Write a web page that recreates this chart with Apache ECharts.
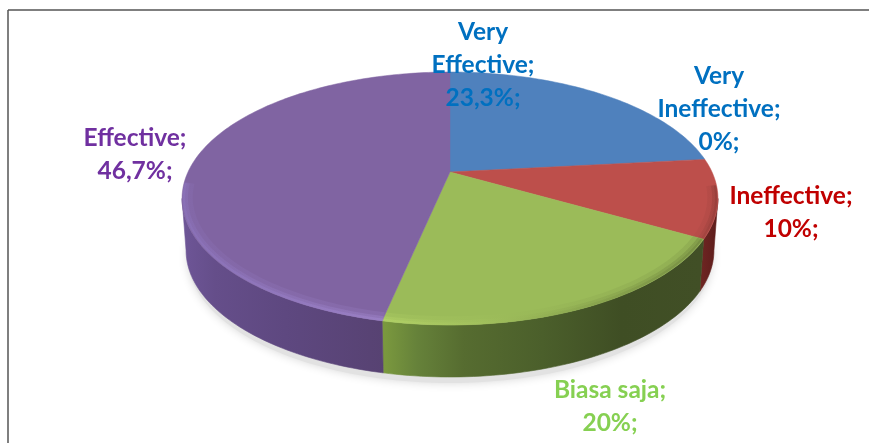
<!DOCTYPE html>
<html><head><meta charset="utf-8">
<style>html,body{margin:0;padding:0;background:#fff}#c{width:869px;height:443px}</style>
<script src="https://cdn.jsdelivr.net/npm/echarts@6/dist/echarts.min.js"></script>
</head><body><div id="c"></div>
<script>
// data
const categories = ['Very Effective','Very Ineffective','Ineffective','Biasa saja','Effective'];
const values = [23.3, 0, 10, 20, 46.7];
const labelSuffix = ['%;','%;','%;','%;','%;'];
// style / layout
const faceColors = ['#4f81bd','#4f81bd','#bd4f4b','#9bbb59','#8064a2'];
const labelColors = ['#0070c0','#0070c0','#c00000','#86d052','#7030a0'];
const labelLines = [['Very','Effective;'],['Very','Ineffective;'],['Ineffective;'],['Biasa saja;'],['Effective;']];
const labelPos = [[483,32],[719,76],[791,196],[610,390],[135,138]];
const cx=450, cy=172, A=262, a=84.9, c=-0.2095, depth=52, baseScale=0.985;
const total = values.reduce((s,v)=>s+v,0);
const starts=[]; let acc=0; values.forEach(v=>{starts.push(acc);acc+=v;});
const toAng=v=>v/total*Math.PI*2;
function proj(t,r,bottom){
  const x=Math.sin(t)*r,y=-Math.cos(t)*r,d=1+c*y;
  let X=cx+A*x/d,Y=(a*y+cy)/d;
  if(bottom){X=cx+(X-cx)*baseScale;Y+=depth;}
  return [X,Y];
}
function arc(t0,t1,r,bottom){
  const n=Math.max(2,Math.ceil((t1-t0)/0.02)),p=[];
  for(let i=0;i<=n;i++)p.push(proj(t0+(t1-t0)*i/n,r,bottom));
  return p;
}
const tR=Math.acos(c), tL=2*Math.PI-tR; // silhouette of the disc
const grad=(x,x2,stops)=>({type:'linear',x:x,y:0,x2:x2,y2:0,global:true,
  colorStops:stops.map(s=>({offset:s[0],color:s[1]}))});
const sideFill={
  2:grad(690,720,[[0,'#7a2a27'],[1,'#5a1c1a']]),
  3:grad(385,700,[[0,'#7a983e'],[0.1,'#66823a'],[0.25,'#566c30'],[0.5,'#4b5f2b'],[0.75,'#3f4e24'],[1,'#414f26']]),
  4:grad(185,385,[[0,'#6d5596'],[0.15,'#654e8a'],[0.5,'#5e4880'],[1,'#574272']])
};
const glow={
  2:grad(690,720,[[0,'#b04a46'],[1,'#8a3a36']]),
  3:grad(385,700,[[0,'#b5d468'],[0.3,'#a3c25e'],[0.65,'#86a14c'],[1,'#6f853e']]),
  4:grad(185,385,[[0,'#8c74bc'],[1,'#a086cc']])
};
const chart=echarts.init(document.getElementById('c'),null,{renderer:'canvas'});
const data=values.map((v,i)=>({name:categories[i],value:v}));
chart.setOption({
  animation:false,
  backgroundColor:'#fff',
  graphic:[
    {type:'line',shape:{x1:8,y1:10,x2:869,y2:10},style:{stroke:'#555',lineWidth:1.5},silent:true},
    {type:'line',shape:{x1:8,y1:10,x2:8,y2:443},style:{stroke:'#555',lineWidth:1.5},silent:true}
  ],
  series:[
  { // ground shadow
    type:'custom',coordinateSystem:'none',z:1,silent:true,data:[0],
    renderItem(){
      const p=arc(0,Math.PI*2,1,true).map(q=>[cx+(q[0]-cx)*0.995,q[1]+6]);
      return {type:'polygon',shape:{points:p},style:{fill:'#e2e2e2',shadowBlur:10,shadowColor:'#d8d8d8'}};
    }
  },
  { // rim
    type:'custom',coordinateSystem:'none',z:2,silent:true,data:data,
    renderItem(params,api){
      const i=params.dataIndex,v=api.value(0);
      const t0=Math.max(toAng(starts[i]),tR),t1=Math.min(toAng(starts[i]+v),tL);
      if(!(t1>t0))return {type:'group',children:[]};
      const pts=arc(t0,t1,1,false).concat(arc(t0,t1,1,true).reverse());
      return {type:'polygon',shape:{points:pts},style:{fill:sideFill[i],stroke:sideFill[i],lineWidth:0.6}};
    }
  },
  { // top faces
    type:'custom',coordinateSystem:'none',z:3,silent:true,data:data,
    renderItem(params,api){
      const i=params.dataIndex,v=api.value(0);
      if(!v)return {type:'group',children:[]};
      const t0=toAng(starts[i]),t1=toAng(starts[i]+v);
      const ch=[{type:'polygon',shape:{points:[[cx,cy]].concat(arc(t0,t1,1,false))},
        style:{fill:faceColors[i],stroke:faceColors[i],lineWidth:0.5}}];
      const h0=Math.max(t0,tR-0.1),h1=Math.min(t1,tL+0.12);
      if(h1>h0){
        ch.push({type:'polyline',shape:{points:arc(h0,h1,0.978,false)},
          style:{fill:null,stroke:glow[i],lineWidth:9,opacity:0.22}});
        ch.push({type:'polyline',shape:{points:arc(h0,h1,0.988,false)},
          style:{fill:null,stroke:glow[i],lineWidth:5,opacity:0.4}});
        ch.push({type:'polyline',shape:{points:arc(h0,h1,0.994,false)},
          style:{fill:null,stroke:glow[i],lineWidth:2.5,opacity:0.55}});
      }
      return {type:'group',children:ch};
    }
  },
  { // labels
    type:'custom',coordinateSystem:'none',z:5,silent:true,data:data,
    renderItem(params,api){
      const i=params.dataIndex,v=api.value(0);
      const txt=labelLines[i].concat([String(v).replace('.',',')+labelSuffix[i]]);
      const lh=33;
      return {type:'group',children:txt.map((s,k)=>({type:'text',
        style:{x:labelPos[i][0],y:labelPos[i][1]+k*lh,text:s,fill:labelColors[i],align:'center',verticalAlign:'middle',
          font:'700 24.5px Lato, sans-serif'}}))};
    }
  }]
});
</script></body></html>
